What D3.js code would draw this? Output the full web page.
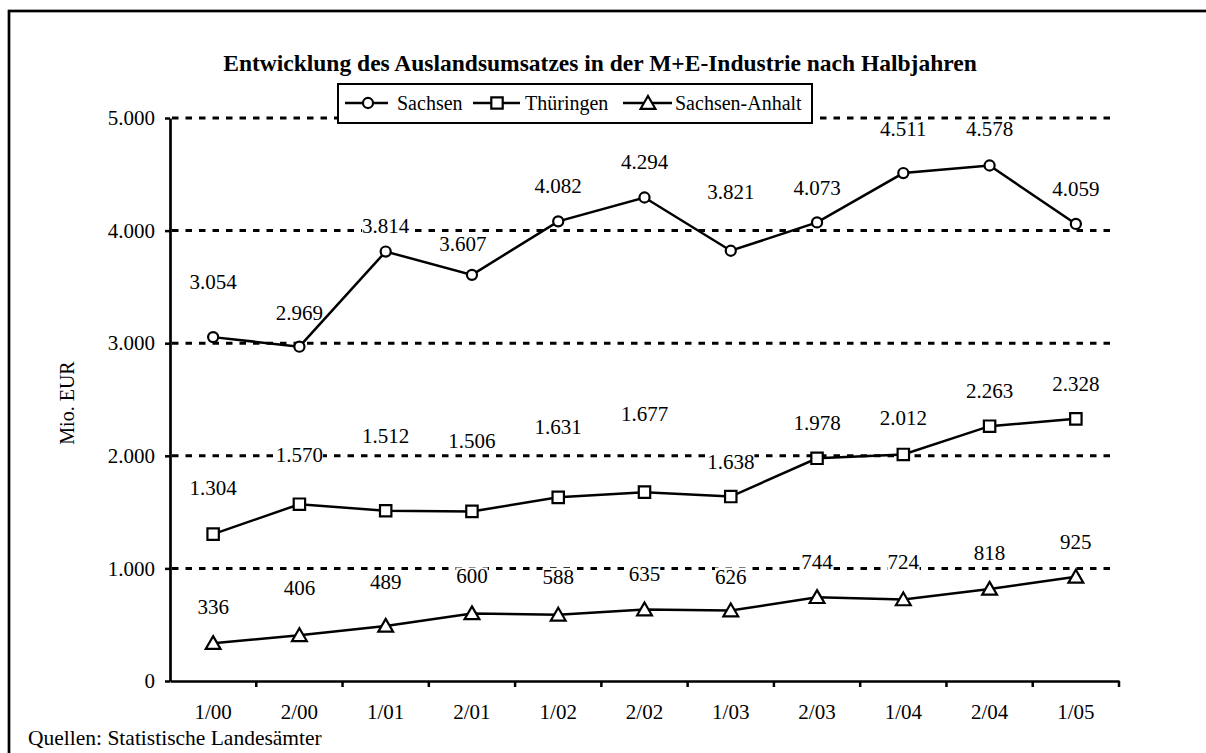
<!DOCTYPE html>
<html>
<head>
<meta charset="utf-8">
<script src="https://cdn.jsdelivr.net/npm/d3@7"></script>
<style>
  body { margin: 0; background: #fff; }
  svg text { font-family: "Liberation Serif", "Times New Roman", Times, serif !important; fill: #000; }
</style>
</head>
<body>
<div id="chart"></div>
<script>
// Auslandsumsatz M+E-Industrie, Halbjahre

const categories = ["1/00", "2/00", "1/01", "2/01", "1/02", "2/02", "1/03", "2/03", "1/04", "2/04", "1/05"];
const sachsen = [3054, 2969, 3814, 3607, 4082, 4294, 3821, 4073, 4511, 4578, 4059];
const thueringen = [1304, 1570, 1512, 1506, 1631, 1677, 1638, 1978, 2012, 2263, 2328];
const sachsenAnhalt = [336, 406, 489, 600, 588, 635, 626, 744, 724, 818, 925];
const seriesNames = ["Sachsen", "Thüringen", "Sachsen-Anhalt"];
const yTicks = [0, 1000, 2000, 3000, 4000, 5000];

// label placement (pixels above the point), as in the original
const labelDy = [
  [-55, -34, -26, -31, -35, -35, -59, -34, -44, -37, -35],
  [-46, -49, -75, -70, -70, -78, -35, -35, -36, -35, -35],
  [-36, -47, -44, -37, -38, -35, -34, -35, -37, -36, -35]
];
const labelDx = [
  [0, 0, 0, -9, 0, 0, 0, 0, 0, 0, 0],
  [0, 0, 0, 0, 0, 0, 0, 0, 0, 0, 0],
  [0, 0, 0, 0, 0, 0, 0, 0, 0, 0, 0]
];

const width = 1206,
    height = 753;
const serif = '"Liberation Serif", "Times New Roman", Times, serif';

const de = d3.formatLocale({decimal: ",", thousands: ".", grouping: [3], currency: ["", " €"]});
const fmt = de.format(",d");

const svg = d3.select("#chart")
  .append("svg")
    .attr("width", width)
    .attr("height", height)
    .attr("font-family", serif);

// outer frame (cut off at right and bottom)
svg.append("rect")
  .attr("x", 9).attr("y", 11)
  .attr("width", 1300).attr("height", 900)
  .attr("fill", "none")
  .attr("stroke", "#000")
  .attr("stroke-width", 2.7);

const x = d3.scaleBand()
  .domain(categories)
  .range([170, 1119]);

const y = d3.scaleLinear()
  .domain([0, 5000])
  .range([681, 118]);

// dotted gridlines
svg.append("g")
  .selectAll("line")
  .data(yTicks.filter(d => d > 0))
  .join("line")
    .attr("x1", 172)
    .attr("x2", 1114)
    .attr("y1", d => y(d))
    .attr("y2", d => y(d))
    .attr("stroke", "#000")
    .attr("stroke-width", 3)
    .attr("stroke-dasharray", "6.5,7");

// y axis
const yAxis = svg.append("g")
  .attr("transform", "translate(170,0)")
  .call(d3.axisLeft(y).tickValues(yTicks).tickFormat(fmt).tickSize(5).tickSizeOuter(0).tickPadding(10));
yAxis.attr("font-family", serif);
yAxis.select(".domain").attr("stroke-width", 2.7);
yAxis.selectAll(".tick line").attr("stroke-width", 2.5);
yAxis.selectAll("text").style("font-size", "21px").style("font-family", serif);

// x axis: labels at band centres, ticks at band edges
const xAxis = svg.append("g")
  .attr("transform", "translate(0,681)")
  .call(d3.axisBottom(x).tickSize(0).tickPadding(23).tickSizeOuter(0));
xAxis.attr("font-family", serif);
xAxis.select(".domain").attr("stroke-width", 2.7);
xAxis.selectAll("text").style("font-size", "21px").style("font-family", serif);
xAxis.selectAll("tickEdges")
  .data(categories.slice(1).map(c => x(c)).concat([x.range()[1]]))
  .join("line")
    .attr("x1", d => d).attr("x2", d => d)
    .attr("y1", 0).attr("y2", 6)
    .attr("stroke", "#000")
    .attr("stroke-width", 2.5);

// y title
svg.append("text")
  .attr("transform", "translate(67,403) rotate(-90)")
  .attr("text-anchor", "middle")
  .attr("dominant-baseline", "central")
  .style("font-size", "20px")
  .text("Mio. EUR");

// title
svg.append("text")
  .attr("x", 600).attr("y", 71)
  .attr("text-anchor", "middle")
  .style("font-size", "23.5px")
  .style("font-weight", "bold")
  .text("Entwicklung des Auslandsumsatzes in der M+E-Industrie nach Halbjahren");

// source
svg.append("text")
  .attr("x", 28).attr("y", 745)
  .style("font-size", "21.5px")
  .text("Quellen: Statistische Landesämter");

const allSeries = [sachsen, thueringen, sachsenAnhalt];
const cx = c => x(c) + x.bandwidth() / 2;

// label backgrounds go under the lines, text above
const bgLayer = svg.append("g");
const lineLayer = svg.append("g");
const textLayer = svg.append("g");

const line = d3.line()
  .x((d, i) => cx(categories[i]))
  .y(d => y(d));

const symbols = [d3.symbolCircle, d3.symbolSquare, d3.symbolTriangle];
const symbolSizes = [80, 130, 95];

function drawMarker(g, k) {
  g.append("path")
    .attr("d", d3.symbol().type(symbols[k]).size(symbolSizes[k])())
    .attr("transform", k === 2 ? "translate(0,1.5)" : null)
    .attr("fill", "#fff")
    .attr("stroke", "#000")
    .attr("stroke-width", 2.2);
}

allSeries.forEach((vals, k) => {
  lineLayer.append("path")
    .datum(vals)
    .attr("d", line)
    .attr("fill", "none")
    .attr("stroke", "#000")
    .attr("stroke-width", 2.5);

  lineLayer.selectAll("marks" + k)
    .data(vals)
    .join("g")
      .attr("transform", (d, i) => `translate(${cx(categories[i])},${y(d)})`)
      .each(function () { drawMarker(d3.select(this), k); });

  textLayer.selectAll("labels" + k)
    .data(vals)
    .join("text")
      .attr("x", (d, i) => cx(categories[i]) + labelDx[k][i])
      .attr("y", (d, i) => y(d) + labelDy[k][i])
      .attr("text-anchor", "middle")
      .attr("dominant-baseline", "central")
      .style("font-size", "21px")
      .text(d => fmt(d))
      .each(function () {
        const b = this.getBBox();
        bgLayer.append("rect")
          .attr("x", b.x).attr("y", b.y + 3)
          .attr("width", b.width).attr("height", b.height - 6)
          .attr("fill", "#fff");
      });
});

// legend
const legend = svg.append("g");
legend.append("rect")
  .attr("x", 338).attr("y", 84)
  .attr("width", 474).attr("height", 39)
  .attr("fill", "#fff")
  .attr("stroke", "#000")
  .attr("stroke-width", 2);

const legendItems = [
  {x1: 345, x2: 388, m: 368, t: 397},
  {x1: 473, x2: 520, m: 497, t: 525},
  {x1: 623, x2: 672, m: 648, t: 675}
];
legendItems.forEach((it, k) => {
  legend.append("line")
    .attr("x1", it.x1).attr("x2", it.x2)
    .attr("y1", 103).attr("y2", 103)
    .attr("stroke", "#000")
    .attr("stroke-width", 2.5);
  const g = legend.append("g").attr("transform", `translate(${it.m},103)`);
  drawMarker(g, k);
  legend.append("text")
    .attr("x", it.t).attr("y", 103)
    .attr("dominant-baseline", "central")
    .style("font-size", "20px")
    .text(seriesNames[k]);
});
</script>
</body>
</html>
